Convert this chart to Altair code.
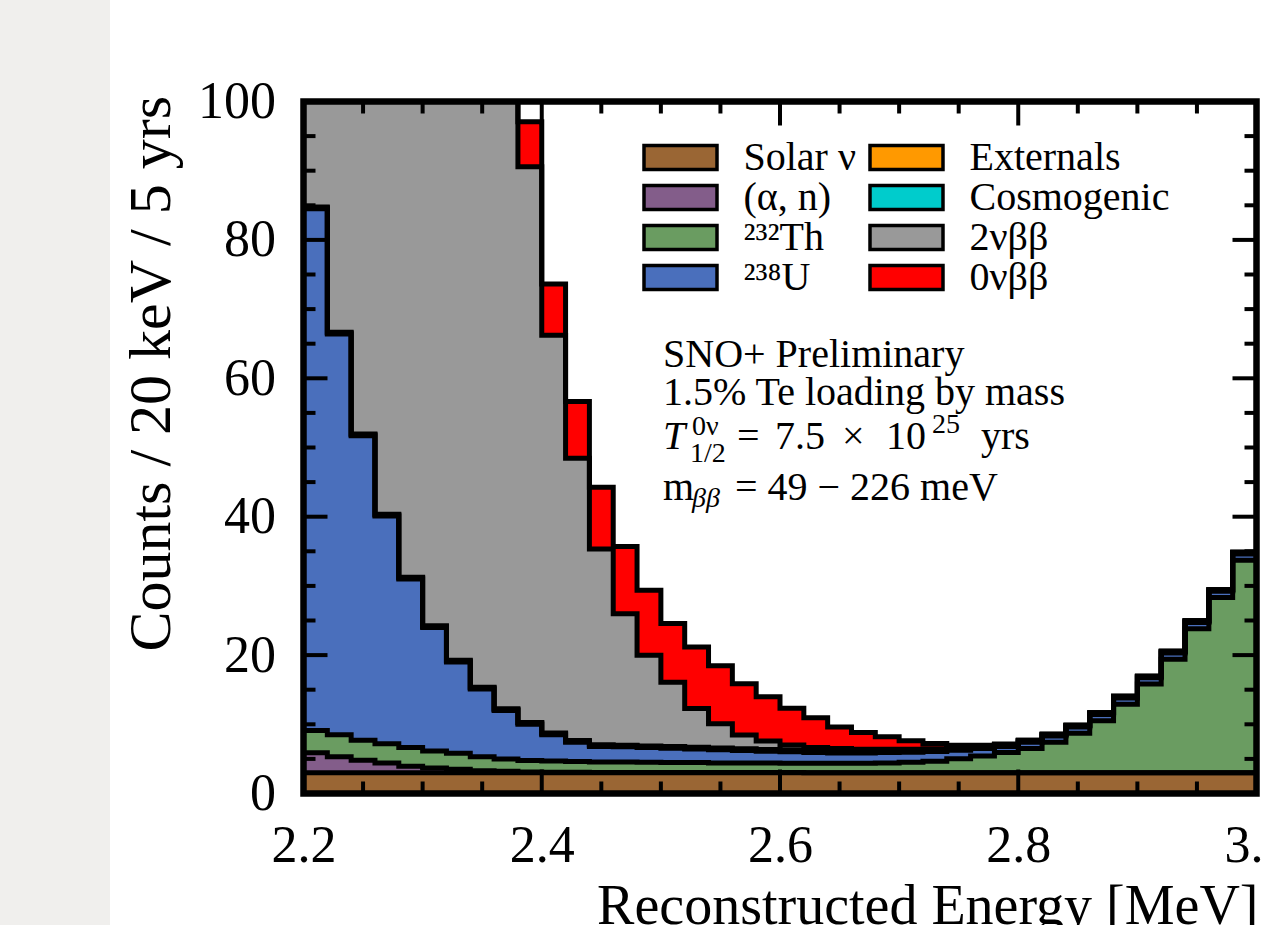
import altair as alt
import pandas as pd

FONT = "Liberation Serif"

# ---------------- data (20 keV bins, lower edges in MeV) ----------------
energy = [2.20, 2.22, 2.24, 2.26, 2.28, 2.30, 2.32, 2.34, 2.36, 2.38,
          2.40, 2.42, 2.44, 2.46, 2.48, 2.50, 2.52, 2.54, 2.56, 2.58,
          2.60, 2.62, 2.64, 2.66, 2.68, 2.70, 2.72, 2.74, 2.76, 2.78,
          2.80, 2.82, 2.84, 2.86, 2.88, 2.90, 2.92, 2.94, 2.96, 2.98]
energy_end = 3.00

solar = [3.0, 3.0, 3.0, 3.0, 3.0, 3.0, 3.0, 3.0, 3.0, 3.0,
         3.0, 3.0, 3.0, 3.0, 3.0, 3.0, 3.0, 3.0, 3.0, 3.0,
         3.0, 3.0, 3.0, 3.0, 3.0, 3.0, 3.0, 3.0, 3.0, 3.0,
         3.0, 3.0, 3.0, 3.0, 3.0, 3.0, 3.0, 3.0, 3.0, 3.0]
alpha_n = [2.9, 2.3, 1.8, 1.4, 0.95, 0.7, 0.5, 0.3, 0.2, 0.12,
           0.08, 0.06, 0.05, 0.04, 0.03, 0.03, 0.02, 0.02, 0.02, 0.02,
           0.02, 0.01, 0.01, 0.01, 0.01, 0.01, 0.01, 0.01, 0.01, 0.01,
           0.01, 0.01, 0.01, 0.01, 0.01, 0.01, 0.01, 0.01, 0.01, 0.01]
th232 = [3.2, 3.2, 2.9, 2.8, 2.7, 2.45, 2.3, 2.0, 1.8, 1.65,
         1.6, 1.55, 1.5, 1.5, 1.5, 1.45, 1.45, 1.4, 1.4, 1.4,
         1.35, 1.35, 1.35, 1.35, 1.4, 1.5, 1.65, 2.0, 2.4, 2.9,
         3.5, 4.4, 5.7, 7.5, 9.9, 12.8, 16.4, 20.8, 25.3, 30.7]
u238 = [75.4, 57.9, 44.0, 32.9, 24.35, 17.85, 13.2, 9.8, 7.0, 5.25,
        3.8, 2.8, 2.25, 2.2, 2.1, 2.05, 1.95, 1.9, 1.8, 1.7,
        1.65, 1.55, 1.5, 1.5, 1.5, 1.45, 1.4, 1.25, 1.1, 0.9,
        0.9, 0.9, 0.9, 0.9, 0.9, 0.9, 0.9, 0.9, 0.9, 0.9]
externals = [0.15, 0.15, 0.15, 0.15, 0.15, 0.15, 0.15, 0.15, 0.15, 0.15,
             0.15, 0.15, 0.15, 0.15, 0.15, 0.15, 0.15, 0.15, 0.15, 0.15,
             0.15, 0.15, 0.15, 0.15, 0.15, 0.15, 0.15, 0.15, 0.15, 0.15,
             0.15, 0.15, 0.15, 0.15, 0.15, 0.15, 0.15, 0.15, 0.15, 0.15]
cosmogenic = [0.1, 0.1, 0.1, 0.1, 0.1, 0.1, 0.1, 0.1, 0.1, 0.1,
              0.1, 0.1, 0.1, 0.1, 0.1, 0.1, 0.1, 0.1, 0.1, 0.1,
              0.1, 0.1, 0.1, 0.1, 0.1, 0.1, 0.1, 0.1, 0.1, 0.1,
              0.1, 0.1, 0.1, 0.1, 0.1, 0.1, 0.1, 0.1, 0.1, 0.1]
two_nu = [535, 453, 378, 310, 254, 206, 171, 140, 112, 80.3,
          57.5, 40.8, 28.3, 19.0, 13.1, 9.3, 5.6, 3.5, 2.0, 1.2,
          0.75, 0.5, 0.4, 0.3, 0.25, 0.2, 0.15, 0.1, 0.05, 0.03,
          0.02, 0.01, 0.0, 0.0, 0.0, 0.0, 0.0, 0.0, 0.0, 0.0]
zero_nu = [0.5, 0.8, 1.2, 1.7, 2.3, 3.0, 3.8, 4.7, 5.6, 6.5,
           7.4, 8.2, 8.9, 9.7, 9.4, 8.5, 8.9, 8.4, 7.4, 6.4,
           5.3, 4.3, 3.1, 2.4, 1.8, 1.2, 0.75, 0.35, 0.15, 0.05,
           0.02, 0.01, 0.0, 0.0, 0.0, 0.0, 0.0, 0.0, 0.0, 0.0]

components = ["Solar ν", "(α, n)", "²³²Th", "²³⁸U",
              "Externals", "Cosmogenic", "2νββ", "0νββ"]
colors = ["#9a6634", "#835d8a", "#6a9c61", "#4a6fbc",
          "#ff9900", "#00cccc", "#999999", "#ff0000"]
series = [solar, alpha_n, th232, u238, externals, cosmogenic, two_nu, zero_nu]

x_major = [2.2, 2.4, 2.6, 2.8, 3.0]
x_minor = [2.25, 2.3, 2.35, 2.45, 2.5, 2.55, 2.65, 2.7, 2.75, 2.85, 2.9, 2.95]
y_major = [0, 20, 40, 60, 80, 100]
y_minor = [5, 10, 15, 25, 30, 35, 45, 50, 55, 65, 70, 75, 85, 90, 95]

# ---------------- build stacked step table ----------------
rows = []
cum = [0.0] * len(energy)
for name, vals in zip(components, series):
    lo = list(cum)
    hi = [c + v for c, v in zip(cum, vals)]
    xs_ = energy + [energy_end]
    for xv, a, b in zip(xs_, lo + [lo[-1]], hi + [hi[-1]]):
        rows.append({"E": xv, "lo": a, "hi": b, "comp": name})
    cum = hi
df = pd.DataFrame(rows)

W, H = 953, 692
PL, PT = 303.5, 101.5
one = pd.DataFrame({"a": [0]})

xs = alt.Scale(domain=[2.2, 3.0], nice=False, zero=False)
ys = alt.Scale(domain=[0, 100], nice=False)

x_axis = alt.Axis(values=x_major, format=".1f", labelFont=FONT, labelFontSize=52,
                  labelColor="black", labelPadding=27, labelFlush=False,
                  labelOverlap=False, ticks=False, domain=False, grid=False,
                  title="Reconstructed Energy [MeV]", titleFont=FONT,
                  titleFontSize=56, titleFontWeight="normal", titleColor="black",
                  titleAlign="right", titleAnchor="end", titleBaseline="alphabetic",
                  titleX=954.5, titleY=130)
y_axis = alt.Axis(values=y_major, labelFont=FONT, labelFontSize=52,
                  labelColor="black", labelPadding=28, labelFlush=False,
                  labelOverlap=False, ticks=False, domain=False, grid=False,
                  title="Counts / 20 keV / 5 yrs", titleFont=FONT,
                  titleFontSize=60, titleFontWeight="normal", titleColor="black",
                  titleAngle=270, titleAlign="right", titleBaseline="alphabetic",
                  titleX=-134, titleY=-6)


def X(field):
    return alt.X(field, scale=xs, axis=x_axis)


def Y(field, **kw):
    return alt.Y(field, scale=ys, axis=y_axis, **kw)


strip = alt.Chart(one).mark_rect(color="#f0efed").encode(
    x=alt.value(-PL), x2=alt.value(-PL + 110),
    y=alt.value(-PT), y2=alt.value(H + 140))

areas = alt.Chart(df).mark_area(interpolate="step-after", clip=True).encode(
    x=X("E:Q"),
    y=Y("hi:Q", stack=None),
    y2="lo:Q",
    color=alt.Color("comp:N",
                    scale=alt.Scale(domain=components, range=colors),
                    legend=alt.Legend(title=None, orient="none", legendX=357, legendY=36,
                                      columns=2, symbolType="M-2,-0.66H2V0.66H-2Z",
                                      symbolSize=1332, symbolStrokeColor="black",
                                      symbolStrokeWidth=3.5, symbolOpacity=1,
                                      labelFont=FONT, labelFontSize=40, labelColor="black",
                                      labelOffset=43, rowPadding=0, columnPadding=6,
                                      labelLimit=0, padding=0)),
)

lines = alt.Chart(df).mark_line(interpolate="step-after", clip=True, color="black",
                                strokeWidth=5, strokeJoin="miter").encode(
    x=X("E:Q"), y=Y("hi:Q"), detail="comp:N")


def xticks(vals, length):
    d = pd.DataFrame({"v": vals})
    base = alt.Chart(d).mark_rule(color="black", strokeWidth=4)
    bottom = base.encode(x=X("v:Q"), y=alt.value(H), y2=alt.value(H - length))
    top = base.encode(x=X("v:Q"), y=alt.value(0), y2=alt.value(length))
    return [bottom, top]


def yticks(vals, length):
    d = pd.DataFrame({"v": vals})
    base = alt.Chart(d).mark_rule(color="black", strokeWidth=4)
    left = base.encode(y=Y("v:Q"), x=alt.value(0), x2=alt.value(length))
    right = base.encode(y=Y("v:Q"), x=alt.value(W), x2=alt.value(W - length))
    return [left, right]


ticks = xticks(x_major, 24) + xticks(x_minor, 12) + yticks(y_major, 24) + yticks(y_minor, 12)

frame = alt.Chart(one).mark_rect(fillOpacity=0, stroke="black", strokeWidth=6.5).encode(
    x=alt.value(0), x2=alt.value(W), y=alt.value(0), y2=alt.value(H))


def label(s, px, py, size=40, italic=False):
    kw = dict(align="left", baseline="alphabetic", font=FONT, fontSize=size, color="black")
    if italic:
        kw["fontStyle"] = "italic"
    return alt.Chart(one).mark_text(**kw).encode(
        x=alt.value(px - PL), y=alt.value(py - PT), text=alt.value(s))


texts = [
    label("SNO+ Preliminary", 663, 367),
    label("1.5% Te loading by mass", 663, 405),
    label("T", 663, 449, italic=True),
    label("0ν", 692, 435, size=28),
    label("1/2", 690, 462, size=28),
    label("=", 737, 449),
    label("7.5", 775, 449),
    label("×", 842, 449),
    label("10", 886, 449),
    label("25", 932, 433, size=28),
    label("yrs", 981, 449),
    label("m", 663, 500),
    label("ββ", 692, 507, size=28, italic=True),
    label("= 49 − 226 meV", 735, 500),
]

chart = alt.layer(strip, areas, lines, *ticks, frame, *texts).properties(
    width=W, height=H,
    autosize=alt.AutoSizeParams(type="none"),
    padding={"left": PL, "top": PT, "right": 1263 - PL - W, "bottom": 925 - PT - H},
    background="white",
).configure_view(strokeWidth=0)

chart.save("out.html", embed_options={"renderer": "svg", "actions": False})
